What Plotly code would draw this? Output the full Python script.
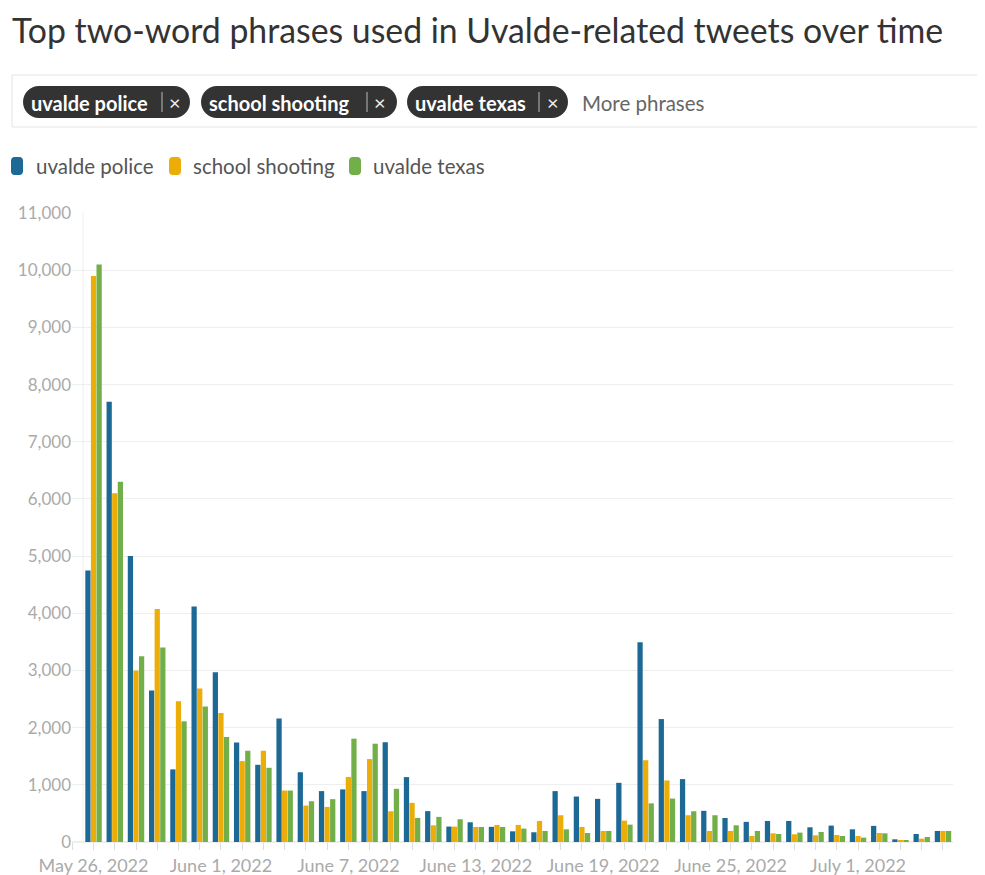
import plotly.graph_objects as go
import pandas as pd

# ---------------- data ----------------
dates = pd.date_range("2022-05-26", "2022-07-05", freq="D")

uvalde_police = [4750, 7700, 5000, 2650, 1270, 4120, 2970, 1740, 1350, 2160,
                 1220, 890, 920, 890, 1745, 1135, 540, 270, 345, 265,
                 187, 170, 890, 795, 755, 1035, 3495, 2150, 1100, 545,
                 420, 352, 368, 368, 257, 287, 222, 282, 47, 140, 193]
school_shooting = [9900, 6100, 3000, 4075, 2460, 2685, 2257, 1415, 1596, 900,
                   637, 614, 1138, 1450, 538, 684, 292, 269, 263, 298,
                   298, 368, 468, 263, 193, 374, 1430, 1076, 468, 193,
                   193, 105, 152, 135, 117, 123, 105, 158, 29, 58, 193]
uvalde_texas = [10100, 6300, 3250, 3400, 2110, 2368, 1836, 1596, 1298, 900,
                713, 749, 1807, 1719, 930, 421, 439, 398, 263, 263,
                234, 193, 222, 158, 193, 304, 676, 760, 538, 468,
                292, 193, 140, 164, 175, 105, 76, 152, 29, 88, 193]

series_names = ["uvalde police", "school shooting", "uvalde texas"]
series_values = [uvalde_police, school_shooting, uvalde_texas]
colors = ["#1D6996", "#EDAD08", "#73AF48"]

FONT = "Source Sans Pro, Lato, Roboto, sans-serif"

# ---------------- layout geometry ----------------
# The page body has an 8px margin, so the figure is drawn 8px smaller and
# all reference-pixel positions are shifted by OFF.
OFF = 8
W, H = 985 - OFF, 875 - OFF
PLOT_L, PLOT_R, PLOT_T, PLOT_B = 72, 953, 213, 842   # reference pixels
ML, MT = PLOT_L - OFF, PLOT_T - OFF
MR = W - (PLOT_R - OFF)
MB = H - (PLOT_B - OFF)
PW, PH = W - ML - MR, H - MT - MB


def px_x(x):
    return (x - PLOT_L) / PW


def px_y(y):
    return (PLOT_B - y) / PH


fig = go.Figure()
for name, vals, col in zip(series_names, series_values, colors):
    fig.add_trace(go.Bar(x=dates, y=vals, name=name, marker_color=col,
                         marker_line_width=0, showlegend=False))

shapes = []
annotations = []

# filter box
shapes.append(dict(type="rect", xref="paper", yref="paper",
                   x0=px_x(12), x1=px_x(995), y0=px_y(127), y1=px_y(75),
                   line=dict(color="#e4e4e4", width=1), fillcolor="white",
                   layer="below"))


def round_rect_path(x0, x1, y0, y1, r):
    k = 0.5523 * r
    p = [f"M {px_x(x0 + r)},{px_y(y0)}",
         f"L {px_x(x1 - r)},{px_y(y0)}",
         f"C {px_x(x1 - r + k)},{px_y(y0)} {px_x(x1)},{px_y(y0 + r - k)} {px_x(x1)},{px_y(y0 + r)}",
         f"L {px_x(x1)},{px_y(y1 - r)}",
         f"C {px_x(x1)},{px_y(y1 - r + k)} {px_x(x1 - r + k)},{px_y(y1)} {px_x(x1 - r)},{px_y(y1)}",
         f"L {px_x(x0 + r)},{px_y(y1)}",
         f"C {px_x(x0 + r - k)},{px_y(y1)} {px_x(x0)},{px_y(y1 - r + k)} {px_x(x0)},{px_y(y1 - r)}",
         f"L {px_x(x0)},{px_y(y0 + r)}",
         f"C {px_x(x0)},{px_y(y0 + r - k)} {px_x(x0 + r - k)},{px_y(y0)} {px_x(x0 + r)},{px_y(y0)} Z"]
    return " ".join(p)


# pills: (left, right, separator x, close x)
pills = [(23, 190, 162, 175), (201, 397, 367, 380), (407, 568, 539, 553)]
PY0, PY1 = 86, 118
PYC = (PY0 + PY1) / 2
for (x0, x1, sep, cx), name in zip(pills, series_names):
    shapes.append(dict(type="path", xref="paper", yref="paper",
                       path=round_rect_path(x0, x1, PY0, PY1, (PY1 - PY0) / 2),
                       fillcolor="#333333", line=dict(width=0)))
    shapes.append(dict(type="line", xref="paper", yref="paper",
                       x0=px_x(sep), x1=px_x(sep),
                       y0=px_y(PYC - 10), y1=px_y(PYC + 10),
                       line=dict(color="#bbbbbb", width=1)))
    annotations.append(dict(text=name, xref="paper", yref="paper",
                            x=px_x(x0 + 6), y=px_y(PYC + 1), xanchor="left",
                            yanchor="middle", showarrow=False,
                            font=dict(family=FONT, size=20, color="white",
                                      weight="bold")))
    annotations.append(dict(text="×", xref="paper", yref="paper",
                            x=px_x(cx), y=px_y(PYC), xanchor="center",
                            yanchor="middle", showarrow=False,
                            font=dict(family=FONT, size=20, color="#eeeeee")))

annotations.append(dict(text="More phrases", xref="paper", yref="paper",
                        x=px_x(580), y=px_y(PYC + 1), xanchor="left",
                        yanchor="middle", showarrow=False,
                        font=dict(family=FONT, size=20.5, color="#666666")))

# legend (drawn as rounded swatches + labels, like the original)
legend_pos = [(11, 34), (169, 191), (349, 371)]
LY0, LY1 = 157, 175
for (sx, tx), name, col in zip(legend_pos, series_names, colors):
    shapes.append(dict(type="path", xref="paper", yref="paper",
                       path=round_rect_path(sx, sx + 12, LY0, LY1, 3.5),
                       fillcolor=col, line=dict(width=0)))
    annotations.append(dict(text=name, xref="paper", yref="paper",
                            x=px_x(tx), y=px_y(166), xanchor="left",
                            yanchor="middle", showarrow=False,
                            font=dict(family=FONT, size=20.5, color="#555555")))

# y axis left line
shapes.append(dict(type="line", xref="paper", yref="paper",
                   x0=px_x(83), x1=px_x(83), y0=0, y1=1,
                   line=dict(color="#eeeeee", width=1), layer="below"))

fig.update_layout(
    width=W, height=H,
    margin=dict(l=ML, r=MR, t=MT, b=MB, autoexpand=False),
    paper_bgcolor="white", plot_bgcolor="white",
    font=dict(family=FONT, color="#aaaaaa"),
    title=dict(text="Top two-word phrases used in Uvalde-related tweets over time",
               x=(12 - OFF) / W, xanchor="left", y=1 - (31 - OFF) / H,
               yanchor="middle",
               font=dict(family=FONT, size=33.8, color="#333333")),
    barmode="group", bargap=0.21, bargroupgap=0.06,
    showlegend=False,
    xaxis=dict(type="date",
               range=["2022-05-24 23:40", "2022-07-05 11:20"],
               tick0="2022-05-26", dtick=6 * 86400000,
               tickformat="%B %-d, %Y",
               ticks="outside", ticklen=7, tickcolor="#dddddd",
               minor=dict(dtick=86400000, ticks="outside", ticklen=7,
                          tickcolor="#dddddd", showgrid=False),
               showgrid=False, showline=False, zeroline=False,
               tickfont=dict(family=FONT, size=18, color="#aaaaaa")),
    yaxis=dict(range=[0, 11000], dtick=1000, tickformat=",",
               showgrid=True, gridcolor="#eeeeee", gridwidth=1,
               zeroline=True, zerolinecolor="#eeeeee",
               showline=False, ticks="",
               tickfont=dict(family=FONT, size=17, color="#aaaaaa")),
    shapes=shapes,
    annotations=annotations,
)

fig.write_html("out.html")
